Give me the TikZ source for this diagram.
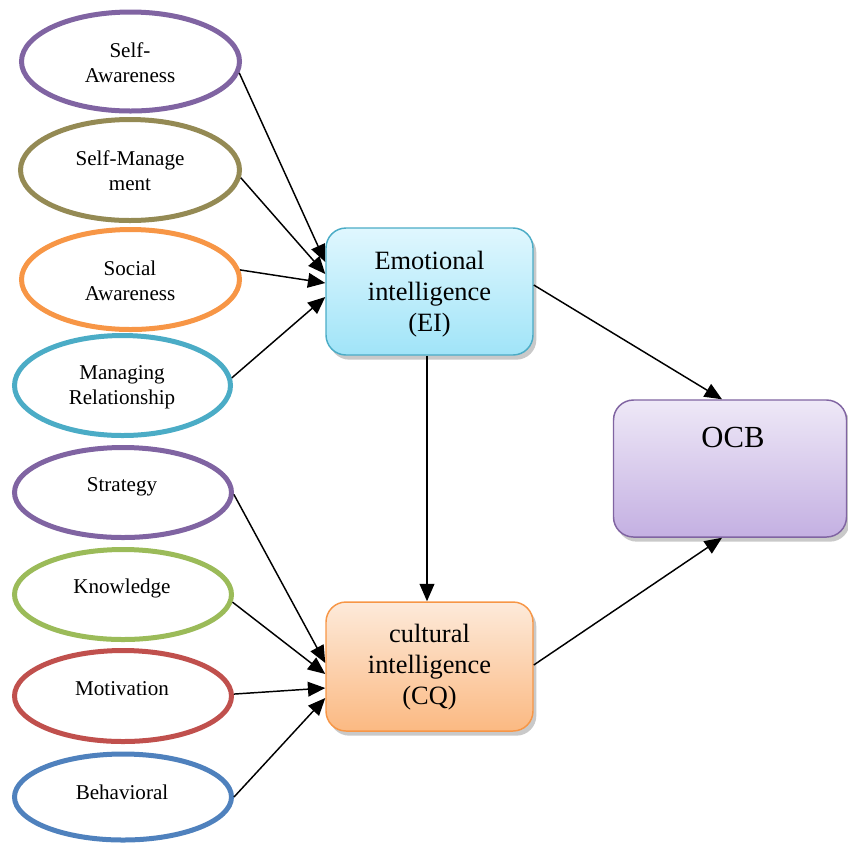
\documentclass[tikz,border=0pt]{standalone}
\usepackage{fontspec}
\setmainfont{Liberation Serif}
\usetikzlibrary{shapes.geometric,arrows.meta,shadows}
\definecolor{cpurple}{RGB}{128,100,162}
\definecolor{colive}{RGB}{148,138,84}
\definecolor{corange}{RGB}{247,150,70}
\definecolor{cteal}{RGB}{75,172,198}
\definecolor{cgreen}{RGB}{155,187,89}
\definecolor{cred}{RGB}{192,80,77}
\definecolor{cblue}{RGB}{79,129,189}
\definecolor{eitop}{RGB}{224,247,254}
\definecolor{eibot}{RGB}{160,228,248}
\definecolor{cqtop}{RGB}{253,234,218}
\definecolor{cqbot}{RGB}{251,185,130}
\definecolor{octop}{RGB}{238,232,247}
\definecolor{ocbot}{RGB}{196,176,226}
\tikzset{
  oval/.style={ellipse, draw, line width=3.75pt, inner sep=0pt, fill=white},
  ovaltext/.style={font=\fontsize{15.8}{18.75}\selectfont, align=center, inner sep=0pt},
  bigbox/.style={rounded corners=15pt, draw, line width=1.1pt, inner sep=0pt,
    drop shadow={shadow xshift=2.5pt, shadow yshift=-3.5pt, opacity=0.3, fill=black!70}},
  boxtext/.style={font=\fontsize{19.8}{23.5}\selectfont, align=center, inner sep=0pt},
  arr/.style={line width=1.1pt, -{Triangle[length=13pt,width=11pt]}}
}
\begin{document}
\begin{tikzpicture}[x=0.75pt,y=-0.75pt]
\useasboundingbox (0,0) rectangle (848,844);
% ellipses (upper group)
\node[oval, draw=cpurple, minimum width=218*0.75pt, minimum height=99*0.75pt] (e1) at (130.5,61.5) {};
\node[oval, draw=colive, minimum width=219*0.75pt, minimum height=101*0.75pt] (e2) at (130,170) {};
\node[oval, draw=corange, minimum width=218*0.75pt, minimum height=100*0.75pt] (e3) at (130.5,279.5) {};
\node[oval, draw=cteal, minimum width=216*0.75pt, minimum height=100*0.75pt] (e4) at (122.5,385.5) {};
% ellipses (lower group)
\node[oval, draw=cpurple, minimum width=217*0.75pt, minimum height=90*0.75pt] (e5) at (123,492.5) {};
\node[oval, draw=cgreen, minimum width=217*0.75pt, minimum height=90*0.75pt] (e6) at (123,594.5) {};
\node[oval, draw=cred, minimum width=217*0.75pt, minimum height=91*0.75pt] (e7) at (123,696) {};
\node[oval, draw=cblue, minimum width=217*0.75pt, minimum height=86*0.75pt] (e8) at (123,797) {};
% ellipse texts
\node[ovaltext] (t1) at (130,63) {Self-\\Awareness};
\node[ovaltext] (t2) at (130,171) {Self-Manage\\ment};
\node[ovaltext] (t3) at (130,281) {Social\\Awareness};
\node[ovaltext] (t4) at (122,387) {Managing\\Relationship};
\node[ovaltext, anchor=base] (t5) at (122,491) {Strategy};
\node[ovaltext, anchor=base] (t6) at (122,593) {Knowledge};
\node[ovaltext, anchor=base] (t7) at (122,695) {Motivation};
\node[ovaltext, anchor=base] (t8) at (122,799) {Behavioral};
% boxes
\node[bigbox, draw=cteal, top color=eitop, bottom color=eibot,
  minimum width=207*0.75pt, minimum height=127*0.75pt] (ei) at (429.5,291.5) {};
\node[boxtext] (eit) at (429.5,294) {Emotional\\intelligence\\(EI)};
\node[bigbox, draw=corange, top color=cqtop, bottom color=cqbot,
  minimum width=207*0.75pt, minimum height=129*0.75pt] (cq) at (429.5,666.5) {};
\node[boxtext] (cqt) at (429.5,667) {cultural\\intelligence\\(CQ)};
\node[bigbox, draw=cpurple, top color=octop, bottom color=ocbot,
  minimum width=233*0.75pt, minimum height=137*0.75pt] (ocb) at (730,468.5) {};
\node[font=\fontsize{23}{27}\selectfont, inner sep=0pt, anchor=base] (ocbt) at (733,447) {OCB};
% arrows into EI
\draw[arr] (e1.-6) -- (ei.west |- 0,262);
\draw[arr] (e2.-4) -- (ei.west |- 0,274);
\draw[arr] (e3.5) -- (ei.west |- 0,283);
\draw[arr] (e4.4.5) -- (ei.west |- 0,297);
% arrows into CQ
\draw[arr] (e5.-1) -- (cq.west |- 0,663);
\draw[arr] (e6.-4) -- (cq.west |- 0,674);
\draw[arr] (e7.1.5) -- (cq.west |- 0,688);
\draw[arr] (e8.0) -- (cq.west |- 0,698);
% EI -> CQ
\draw[arr] (ei.south -| 427,0) -- (cq.north -| 427,0);
% to OCB
\draw[arr] (ei.east |- 0,285) -- (ocb.north -| 722,0);
\draw[arr] (cq.east |- 0,665) -- (ocb.south -| 722,0);
\end{tikzpicture}
\end{document}
